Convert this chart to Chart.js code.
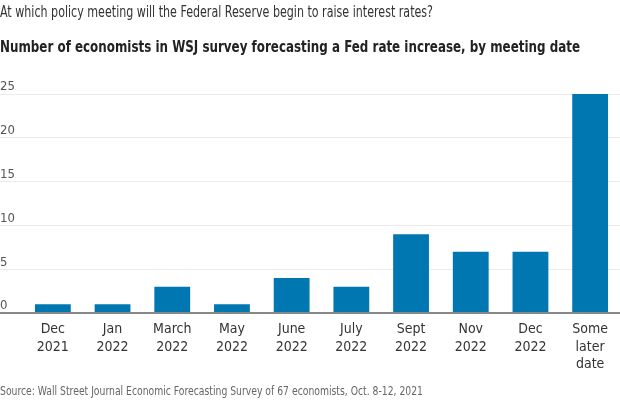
<!DOCTYPE html>
<html>
<head>
<meta charset="utf-8">
<script src="https://cdn.jsdelivr.net/npm/chart.js@4"></script>
<style>
  html, body { margin: 0; padding: 0; background: #fff; }
  body { width: 620px; height: 400px; position: relative; overflow: hidden;
         font-family: "DejaVu Sans Condensed", "Liberation Sans Narrow", sans-serif; }
  #wrap { position: absolute; left: 0; top: 0; width: 620px; height: 400px; }
  .txt { position: absolute; left: 0; white-space: nowrap; transform-origin: 0 50%; }
  #title { top: 3px; font-size: 15.5px; line-height: 18px; color: #333; }
  #subtitle { top: 38px; font-size: 15px; line-height: 18px; font-weight: bold; color: #222; }
  #source { top: 383px; font-size: 13px; line-height: 16px; color: #666; }
</style>
</head>
<body>
<div id="wrap"><canvas id="chart" width="620" height="400"></canvas></div>
<div class="txt" id="title" data-w="433">At which policy meeting will the Federal Reserve begin to raise interest rates?</div>
<div class="txt" id="subtitle" data-w="580">Number of economists in WSJ survey forecasting a Fed rate increase, by meeting date</div>
<div class="txt" id="source" data-w="423">Source: Wall Street Journal Economic Forecasting Survey of 67 economists, Oct. 8-12, 2021</div>
<script>
const categories = [
  ['Dec', '2021'], ['Jan', '2022'], ['March', '2022'], ['May', '2022'], ['June', '2022'],
  ['July', '2022'], ['Sept', '2022'], ['Nov', '2022'], ['Dec', '2022'], ['Some', 'later', 'date']
];
const economists = [1, 1, 3, 1, 4, 3, 9, 7, 7, 25];
const yTicks = [0, 5, 10, 15, 20, 25];

const font = '"DejaVu Sans Condensed", "Liberation Sans Narrow", sans-serif';

// squeeze the header/footer lines to the narrow width of the original typeface
document.querySelectorAll('.txt').forEach(el => {
  const w = el.getBoundingClientRect().width;
  el.style.transform = 'scaleX(' + (Number(el.dataset.w) / w) + ')';
});

const ctx = document.getElementById('chart').getContext('2d');
const chart = new Chart(ctx, {
  type: 'bar',
  data: {
    labels: categories,
    datasets: [{
      label: 'Economists',
      data: economists,
      backgroundColor: '#0077b0',
      borderWidth: 0,
      barPercentage: 0.6,
      categoryPercentage: 1.0
    }]
  },
  options: {
    responsive: false,
    animation: false,
    layout: { padding: { top: 94, left: 0, right: 0, bottom: 0 } },
    plugins: { legend: { display: false }, tooltip: { enabled: false } },
    scales: {
      x: {
        grid: { display: false, drawTicks: false },
        border: { display: false },
        ticks: { color: '#333', padding: 8, maxRotation: 0, autoSkip: false,
                 font: { family: font, size: 14, lineHeight: 1.25 } },
        afterFit: (scale) => { scale.height = 87; }
      },
      y: {
        min: 0,
        max: 25,
        afterBuildTicks: (scale) => { scale.ticks = yTicks.map(v => ({ value: v })); },
        grid: {
          color: (c) => c.tick && c.tick.value === 0 ? '#888' : '#ebebeb',
          lineWidth: (c) => c.tick && c.tick.value === 0 ? 2 : 1,
          drawTicks: true,
          tickLength: 23
        },
        border: { display: false },
        ticks: { color: '#555', padding: 0, crossAlign: 'far', labelOffset: -7,
                 font: { family: font, size: 13 } },
        afterFit: (scale) => { scale.width = 23; scale.paddingTop = 0; scale.paddingBottom = 0; }
      }
    }
  }
});
</script>
</body>
</html>
